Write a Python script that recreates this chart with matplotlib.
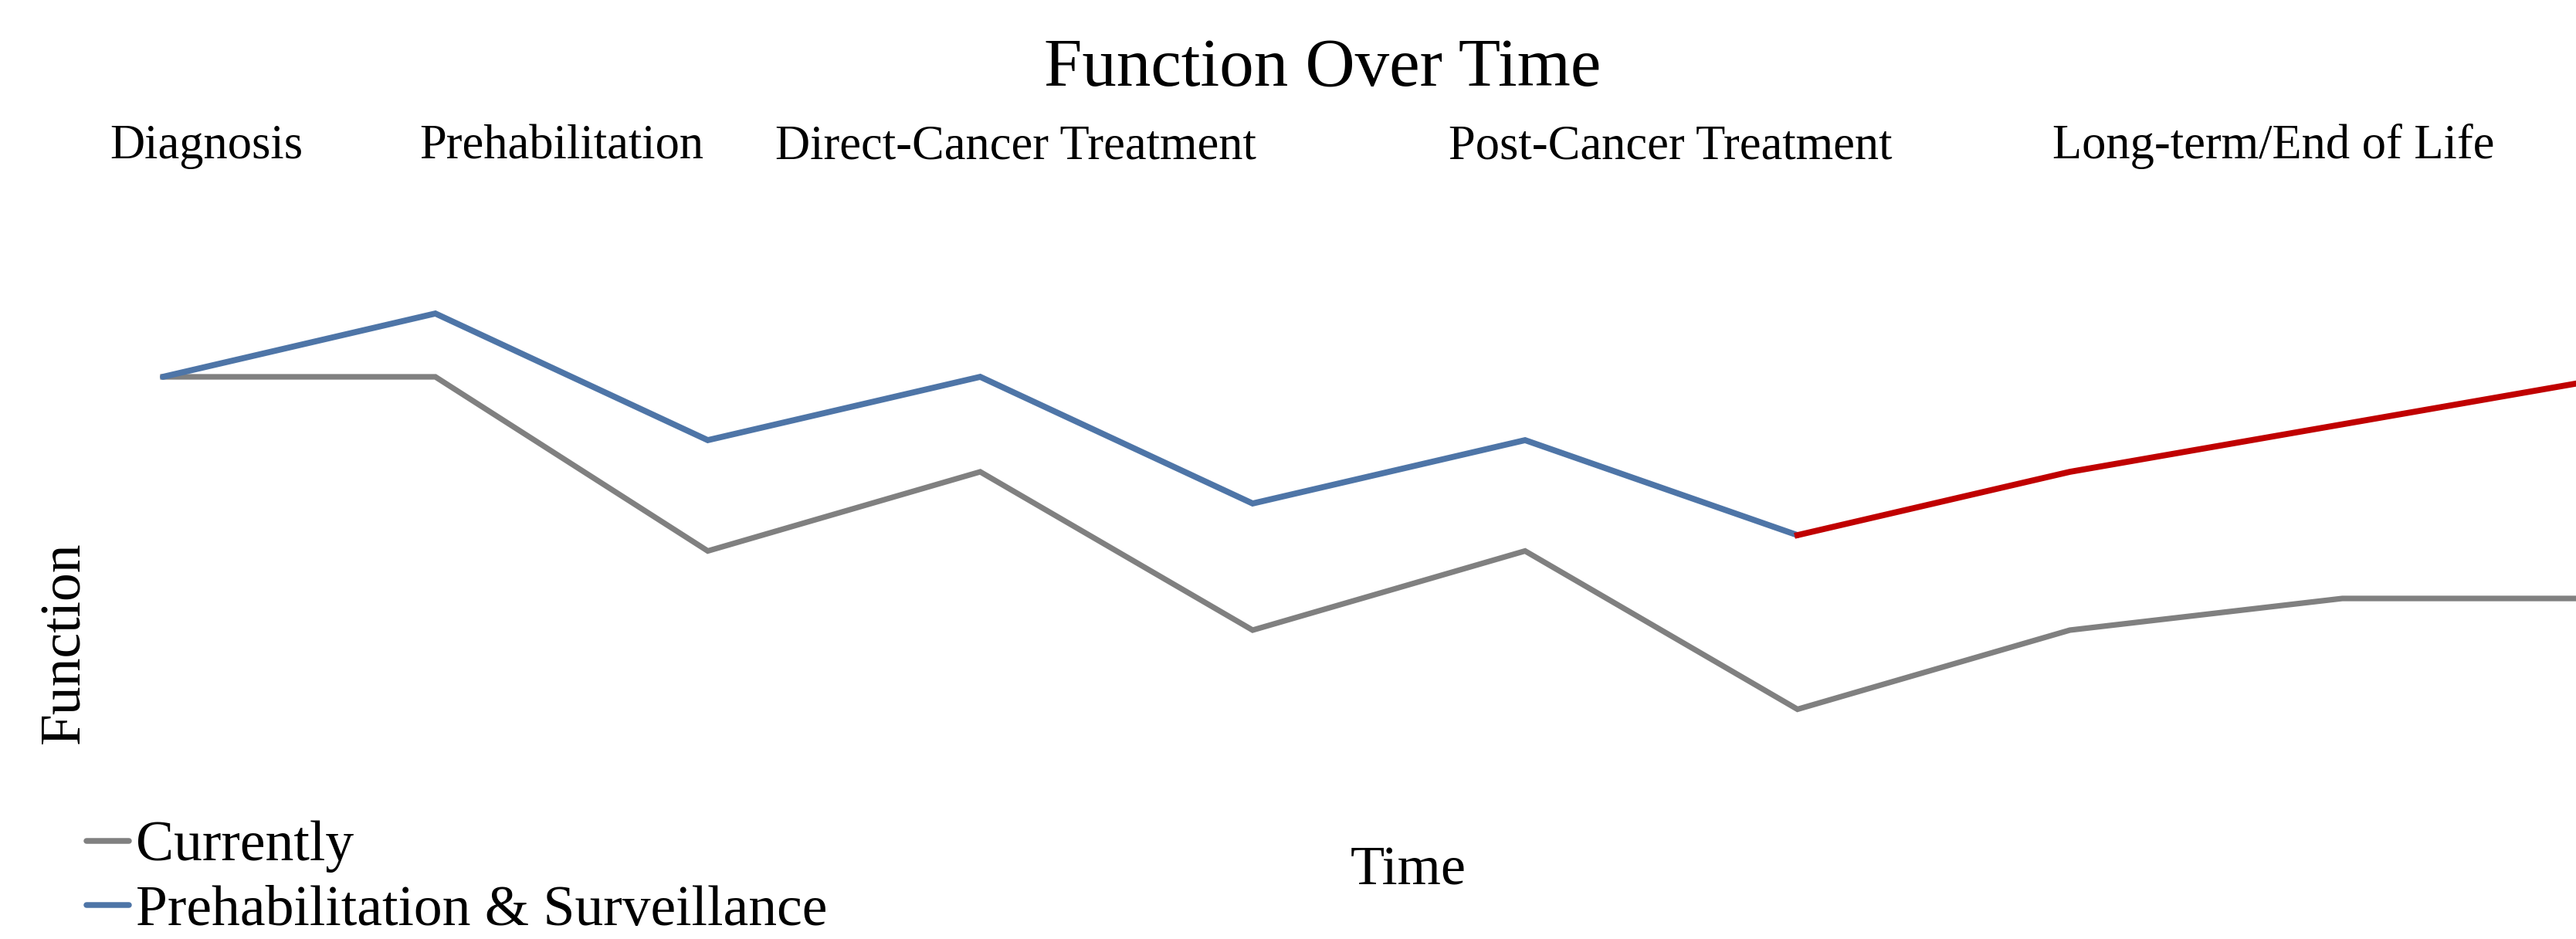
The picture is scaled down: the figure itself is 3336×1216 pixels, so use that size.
import matplotlib
matplotlib.use("Agg")
import matplotlib.pyplot as plt

# phases of care shown along the top
phases = ["Diagnosis", "Prehabilitation", "Direct-Cancer Treatment",
          "Post-Cancer Treatment", "Long-term/End of Life"]
phase_x = [267, 727, 1315, 2163, 2944]   # label centres, pixels

steps = list(range(10))
currently = [10, 10, 7.25, 8.5, 6, 7.25, 4.75, 6, 6.5, 6.5]
prehab = [10, 11, 9, 10, 8, 9, 7.5, 8.5, 9.25, 10]
red_from = 6   # prehab line turns red from this point on

W, H = 3337, 1216
plt.rcParams['font.family'] = ['Liberation Serif', 'DejaVu Serif']

fig = plt.figure(figsize=(W / 100, H / 100), dpi=100)
ax = fig.add_axes([0, 0, 1, 1])
ax.set_axis_off()

l1, = ax.plot(steps, currently, color="#808080", lw=5.2, solid_joinstyle="miter",
              label="Currently")
l2, = ax.plot(steps[:red_from + 1], prehab[:red_from + 1], color="#4E75A7", lw=5.6,
              solid_joinstyle="miter", solid_capstyle="round",
              label="Prehabilitation & Surveillance")
ax.plot(steps[red_from:], prehab[red_from:], color="#C00000", lw=5.6,
        solid_joinstyle="miter")

# axis scale: step spacing ~353 px, 1 unit ~82 px
ax.set_xlim(-211 / 352.8, (W - 211) / 352.8)
ax.set_ylim(10 - (H - 488) / 82, 10 + 488 / 82)

def fx(x):
    return x / W

def fy(y):
    return 1 - y / H

fig.text(fx(1713), fy(111), "Function Over Time", fontsize=64, ha="center", va="baseline")
for name, x in zip(phases, phase_x):
    fig.text(fx(x), fy(205), name, fontsize=45, ha="center", va="baseline")

fig.text(fx(1824), fy(1145), "Time", fontsize=52, ha="center", va="baseline")
fig.text(fx(85), fy(832), "Function", fontsize=53, ha="center", va="center", rotation=90)

leg = fig.legend(handles=[l1, l2], loc="lower left", bbox_to_anchor=(fx(112), fy(1214)),
                 frameon=False, fontsize=53, handlelength=0.75, handletextpad=0.12,
                 labelspacing=0.22, borderpad=0.0, borderaxespad=0.0)
for ln in leg.get_lines():
    ln.set_solid_capstyle("round")
    ln.set_linewidth(5.4)

fig.savefig("out.png", dpi=100)
